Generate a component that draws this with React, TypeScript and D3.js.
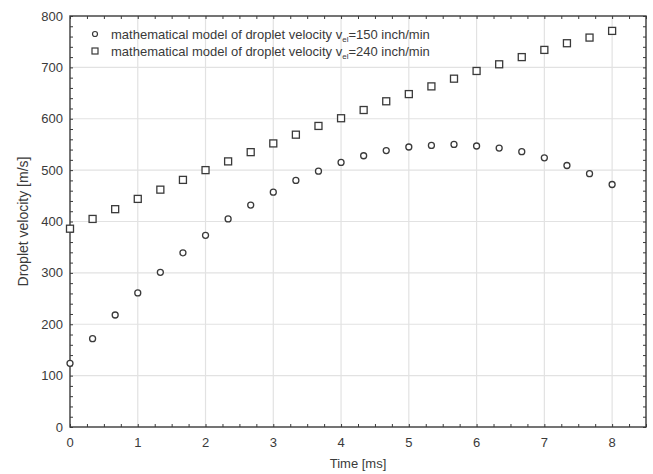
import * as d3 from "d3";
import { useEffect, useRef } from "react";

// time points [ms], every 1/3 ms
const timeSteps = d3.range(25).map((i) => i / 3);

// v_el = 150 inch/min
const velocity150 = [
  124, 172, 218, 261, 301, 339, 373, 405, 432, 457, 480, 498, 515, 528, 538,
  545, 548, 550, 547, 543, 536, 524, 509, 493, 472,
];

// v_el = 240 inch/min
const velocity240 = [
  386, 405, 424, 444, 462, 481, 500, 517, 535, 552, 569, 586, 601, 617, 634,
  648, 663, 678, 693, 706, 720, 734, 747, 758, 771,
];

const xTicks = [0, 1, 2, 3, 4, 5, 6, 7, 8];
const yTicks = [0, 100, 200, 300, 400, 500, 600, 700, 800];

const legendRows = [
  { shape: "circle", prefix: "mathematical model of droplet velocity v", sub: "el", suffix: "=150 inch/min" },
  { shape: "square", prefix: "mathematical model of droplet velocity v", sub: "el", suffix: "=240 inch/min" },
];

function App() {
  const svgRef = useRef<SVGSVGElement>(null);

  useEffect(() => {
    const svg = d3.select(svgRef.current);
    svg.selectAll("*").remove();

    const left = 70;
    const right = 646;
    const top = 16;
    const bottom = 427;

    const x = d3.scaleLinear().domain([0, 8.5]).range([left, right]);
    const y = d3.scaleLinear().domain([0, 800]).range([bottom, top]);
    const ink = "#3a3a3a";
    const font = "Liberation Sans, Arial, sans-serif";

    // grid
    const grid = svg.append("g").attr("stroke", "#e2e2e2").attr("stroke-width", 1.2);
    grid
      .selectAll(".gx")
      .data(xTicks.slice(1))
      .join("line")
      .attr("x1", (d) => x(d))
      .attr("x2", (d) => x(d))
      .attr("y1", top)
      .attr("y2", bottom);
    grid
      .selectAll(".gy")
      .data(yTicks.slice(1, -1))
      .join("line")
      .attr("x1", left)
      .attr("x2", right)
      .attr("y1", (d) => y(d))
      .attr("y2", (d) => y(d));

    // axes with inward ticks on all four sides
    const xMinor = d3.range(0, 8.5001, 0.25);
    const yMinor = d3.range(0, 800.001, 20);
    const frame = svg.append("g");
    frame
      .append("g")
      .attr("transform", `translate(0,${bottom})`)
      .call(d3.axisTop(x).tickValues(xMinor).tickSize(3).tickFormat(() => ""));
    frame
      .append("g")
      .attr("transform", `translate(0,${top})`)
      .call(d3.axisBottom(x).tickValues(xMinor).tickSize(3).tickFormat(() => ""));
    frame
      .append("g")
      .attr("transform", `translate(${left},0)`)
      .call(d3.axisRight(y).tickValues(yMinor).tickSize(3).tickFormat(() => ""));
    frame
      .append("g")
      .attr("transform", `translate(${right},0)`)
      .call(d3.axisLeft(y).tickValues(yMinor).tickSize(3).tickFormat(() => ""));
    frame.selectAll(".domain").remove();
    frame.selectAll("line").attr("stroke", ink);

    svg
      .append("rect")
      .attr("x", left)
      .attr("y", top)
      .attr("width", right - left)
      .attr("height", bottom - top)
      .attr("fill", "none")
      .attr("stroke", ink)
      .attr("stroke-width", 1.4);

    // tick labels
    svg
      .append("g")
      .selectAll("text")
      .data(xTicks)
      .join("text")
      .attr("x", (d) => x(d))
      .attr("y", bottom + 20)
      .attr("text-anchor", "middle")
      .attr("font-family", font)
      .attr("font-size", 13)
      .attr("fill", ink)
      .text((d) => d);
    svg
      .append("g")
      .selectAll("text")
      .data(yTicks)
      .join("text")
      .attr("x", left - 7)
      .attr("y", (d) => y(d) + 4.5)
      .attr("text-anchor", "end")
      .attr("font-family", font)
      .attr("font-size", 13)
      .attr("fill", ink)
      .text((d) => d);

    // axis titles
    svg
      .append("text")
      .attr("x", (left + right) / 2)
      .attr("y", 468)
      .attr("text-anchor", "middle")
      .attr("font-family", font)
      .attr("font-size", 13)
      .attr("fill", ink)
      .text("Time [ms]");
    svg
      .append("text")
      .attr("transform", `translate(28,${(top + bottom) / 2}) rotate(-90)`)
      .attr("text-anchor", "middle")
      .attr("font-family", font)
      .attr("font-size", 14)
      .attr("fill", ink)
      .text("Droplet velocity [m/s]");

    // points
    svg
      .append("g")
      .selectAll("circle")
      .data(velocity150)
      .join("circle")
      .attr("cx", (d, i) => x(timeSteps[i]))
      .attr("cy", (d) => y(d))
      .attr("r", 3)
      .attr("fill", "white")
      .attr("stroke", ink)
      .attr("stroke-width", 1.3);
    svg
      .append("g")
      .selectAll("rect")
      .data(velocity240)
      .join("rect")
      .attr("x", (d, i) => x(timeSteps[i]) - 3.5)
      .attr("y", (d) => y(d) - 3.5)
      .attr("width", 7)
      .attr("height", 7)
      .attr("fill", "white")
      .attr("stroke", ink)
      .attr("stroke-width", 1.3);

    // legend
    const legend = svg.append("g").attr("font-family", font).attr("font-size", 13).attr("fill", ink);
    legendRows.forEach((row, i) => {
      const cy = 34 + i * 17;
      if (row.shape === "circle") {
        legend
          .append("circle")
          .attr("cx", 95)
          .attr("cy", cy)
          .attr("r", 2.5)
          .attr("fill", "white")
          .attr("stroke", ink)
          .attr("stroke-width", 1.2);
      } else {
        legend
          .append("rect")
          .attr("x", 92)
          .attr("y", cy - 3)
          .attr("width", 6)
          .attr("height", 6)
          .attr("fill", "white")
          .attr("stroke", ink)
          .attr("stroke-width", 1.2);
      }
      const t = legend.append("text").attr("x", 111).attr("y", cy + 4.5);
      t.append("tspan").text(row.prefix);
      t.append("tspan").attr("font-size", 8).attr("dy", 3).text(row.sub);
      t.append("tspan").attr("dy", -3).text(row.suffix);
    });
  }, []);

  return <svg ref={svgRef} width={653} height={474} style={{ position: "absolute", left: 0, top: 0 }} />;
}

export default App;
